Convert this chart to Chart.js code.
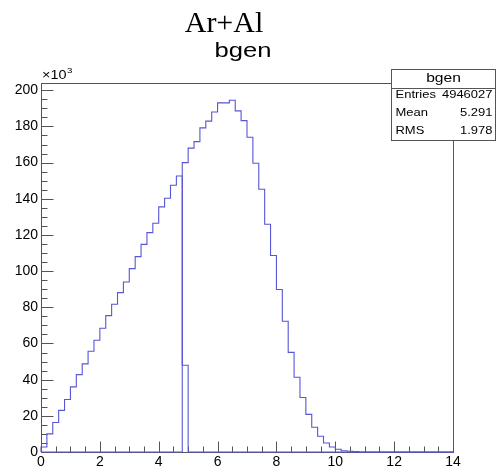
<!DOCTYPE html>
<html>
<head>
<meta charset="utf-8">
<script src="https://cdn.jsdelivr.net/npm/chart.js@4.4.1/dist/chart.umd.min.js"></script>
<style>
  html, body { margin: 0; padding: 0; background: #fff; }
</style>
</head>
<body>
<canvas id="c" width="497" height="474"></canvas>
<script>
// histogram bgen: 70 bins of 0.2 from 0 to 14, counts in thousands
const xMin = 0, xMax = 14, binWidth = 0.2, nBins = 70;
const yMax = 204;

// first part, starts at bin 0 (0.0 - 0.2)
const lowBins = [2.8, 10, 16.3, 23, 29, 36, 42.8, 48.7, 55.7, 61.8, 68.4, 75.4, 81.7,
  88.1, 94, 101.4, 108, 114.8, 121.3, 126.5, 135.5, 140.3, 147.5, 152.6, 48];
const lowFirstBin = 0;

// second part, starts at bin 24 (4.8 - 5.0)
const highBins = [160, 168, 171.6, 179.2, 182.9, 188, 193, 193, 194.5, 188.6, 183.2,
  174, 159.6, 145.3, 125.9, 108.6, 89.8, 72.3, 55.1, 41.3, 30.1, 20.8, 13.7, 8.7,
  5, 2.8, 1.5, 0.7, 0.4, 0.2];
const highFirstBin = 24;

const xTickStep = 2, xMinorStep = 0.5;
const yTickStep = 20, yMinorStep = 5;

const statsTitle = 'bgen';
const statsRows = [['Entries', '4946027'], ['Mean', '5.291'], ['RMS', '1.978']];

const lineColor = '#5656d6';
const axisColor = '#555';

function histogramPoints(values, firstBin) {
  const counts = new Array(nBins).fill(0);
  values.forEach((v, i) => { counts[firstBin + i] = v; });
  const pts = [{ x: xMin, y: 0 }];
  counts.forEach((c, i) => pts.push({ x: xMin + i * binWidth, y: c }));
  pts.push({ x: xMax, y: 0 });
  return pts;
}

// text with a horizontal stretch, like the ROOT png
function stretchedText(ctx, text, x, y, font, align, sx) {
  ctx.save();
  ctx.font = font;
  ctx.fillStyle = '#000';
  ctx.textBaseline = 'alphabetic';
  const w = ctx.measureText(text).width * sx;
  let left = x;
  if (align === 'center') left = x - w / 2;
  if (align === 'right') left = x - w;
  ctx.translate(left, y);
  ctx.scale(sx, 1);
  ctx.textAlign = 'left';
  ctx.fillText(text, 0, 0);
  ctx.restore();
}

const rootFrame = {
  id: 'rootFrame',
  beforeDatasetsDraw(chart) {
    const { ctx, chartArea: a, scales: { x, y } } = chart;
    ctx.save();
    ctx.strokeStyle = axisColor;
    ctx.lineWidth = 1;
    const L = Math.round(a.left) + 0.5, R = Math.round(a.right) + 0.5;
    const T = Math.round(a.top) + 0.5, B = Math.round(a.bottom) + 0.5;
    ctx.strokeRect(L, T, R - L, B - T);
    ctx.beginPath();
    for (let v = xMin; v <= xMax + 1e-9; v += xMinorStep) {
      const px = Math.round(x.getPixelForValue(v)) + 0.5;
      const major = Math.abs(v / xTickStep - Math.round(v / xTickStep)) < 1e-6;
      ctx.moveTo(px, B);
      ctx.lineTo(px, B - (major ? 11 : 6));
    }
    for (let v = 0; v <= yMax + 1e-9; v += yMinorStep) {
      const py = Math.round(y.getPixelForValue(v)) + 0.5;
      const major = v % yTickStep === 0;
      ctx.moveTo(L, py);
      ctx.lineTo(L + (major ? 12 : 6), py);
    }
    ctx.stroke();
    ctx.restore();
  },
  afterDraw(chart) {
    const { ctx, chartArea: a } = chart;
    // titles
    stretchedText(ctx, 'Ar+Al', 224, 32, '30px "Liberation Serif", "Times New Roman", serif', 'center', 1);
    stretchedText(ctx, 'bgen', 243, 57, '20px "Liberation Sans", Arial, sans-serif', 'center', 1.28);
    // x10^3
    stretchedText(ctx, '\u00d710', a.left + 1, 79, '12px "Liberation Sans", Arial, sans-serif', 'left', 1.2);
    stretchedText(ctx, '3', a.left + 26, 73, '8px "Liberation Sans", Arial, sans-serif', 'left', 1.2);
    // stats box
    const bx = 391.5, by = 69.5, bw = 104, bh = 71, hh = 19;
    ctx.save();
    ctx.fillStyle = '#fff';
    ctx.fillRect(bx, by, bw, bh);
    ctx.strokeStyle = axisColor;
    ctx.lineWidth = 1;
    ctx.strokeRect(bx, by, bw, bh);
    ctx.beginPath();
    ctx.moveTo(bx, by + hh);
    ctx.lineTo(bx + bw, by + hh);
    ctx.stroke();
    ctx.restore();
    const f = '11px "Liberation Sans", Arial, sans-serif';
    stretchedText(ctx, statsTitle, bx + bw / 2, by + 12, '13px "Liberation Sans", Arial, sans-serif', 'center', 1.2);
    statsRows.forEach((r, i) => {
      const yy = 98 + i * 18;
      stretchedText(ctx, r[0], bx + 4, yy, f, 'left', 1.18);
      stretchedText(ctx, r[1], bx + bw - 3, yy, f, 'right', 1.18);
    });
  }
};

const tickFont = { family: '"Liberation Sans", Arial, sans-serif', size: 14 };

new Chart(document.getElementById('c'), {
  type: 'line',
  data: {
    datasets: [
      { data: histogramPoints(lowBins, lowFirstBin) },
      { data: histogramPoints(highBins, highFirstBin) }
    ]
  },
  options: {
    responsive: false,
    animation: false,
    layout: { padding: { top: 83, right: 44, left: 0, bottom: 0 } },
    plugins: { legend: { display: false }, tooltip: { enabled: false } },
    elements: {
      point: { radius: 0 },
      line: { borderWidth: 1.1, borderColor: lineColor, stepped: true, tension: 0, fill: false }
    },
    datasets: { line: { clip: false } },
    scales: {
      x: {
        type: 'linear', min: xMin, max: xMax,
        grid: { display: false, drawTicks: false },
        border: { display: false },
        ticks: { stepSize: xTickStep, autoSkip: false, maxRotation: 0, padding: 2,
                 includeBounds: false, color: '#000', font: tickFont },
        afterFit(s) { s.height = 22; }
      },
      y: {
        min: 0, max: yMax,
        grid: { display: false, drawTicks: false },
        border: { display: false },
        ticks: { stepSize: yTickStep, padding: 3, includeBounds: false, color: '#000', font: tickFont },
        afterFit(s) { s.width = 41; }
      }
    }
  },
  plugins: [rootFrame]
});
</script>
</body>
</html>
